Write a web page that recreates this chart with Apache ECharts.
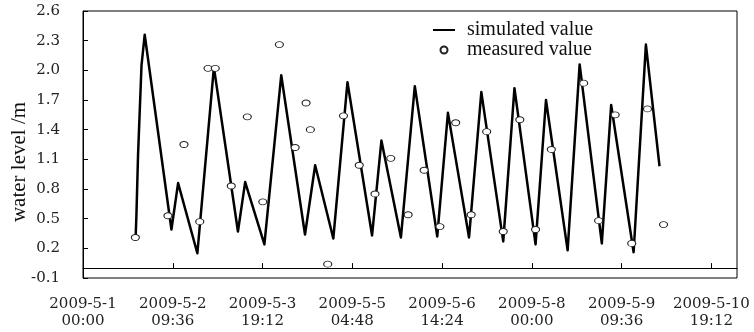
<!DOCTYPE html>
<html>
<head>
<meta charset="utf-8">
<script src="https://cdn.jsdelivr.net/npm/echarts@6/dist/echarts.min.js"></script>
<style>
html,body{margin:0;padding:0;background:#fff;}
#chart{width:754px;height:332px;}
</style>
</head>
<body>
<div id="chart"></div>
<script>
// Time is in hours since 2009-5-1 00:00
const xTickLabels = ['2009-5-1\n00:00','2009-5-2\n09:36','2009-5-3\n19:12','2009-5-5\n04:48','2009-5-6\n14:24','2009-5-8\n00:00','2009-5-9\n09:36','2009-5-10\n19:12'];
const xTickStep = 33.6;   // hours between date ticks
const xMax = 244.8;

const simHours  = [19.7, 20.0, 20.6, 21.9, 23.1, 33.1, 35.6, 42.8, 49.0, 58.0, 60.7, 67.9, 74.2, 83.1, 86.9, 93.7, 99.0, 108.2, 111.7, 119.0, 124.2, 132.6, 136.6, 144.5, 149.1, 157.3, 161.5, 169.4, 173.3, 181.4, 185.9, 194.2, 197.7, 206.1, 210.7, 215.8];
const simValues = [0.31, 0.54, 1.14, 2.05, 2.36, 0.39, 0.86, 0.15, 2.03, 0.37, 0.87, 0.24, 1.95, 0.34, 1.04, 0.30, 1.88, 0.33, 1.29, 0.31, 1.84, 0.32, 1.57, 0.31, 1.78, 0.27, 1.82, 0.24, 1.70, 0.18, 2.06, 0.25, 1.65, 0.16, 2.26, 1.03];

const measHours  = [19.6, 31.8, 37.8, 43.7, 46.8, 49.5, 55.5, 61.5, 67.3, 73.5, 79.4, 83.5, 85.1, 91.6, 97.5, 103.4, 109.3, 115.2, 121.7, 127.7, 133.6, 139.5, 145.3, 151.1, 157.3, 163.5, 169.4, 175.3, 187.4, 193.0, 199.2, 205.4, 211.3, 217.3];
const measValues = [0.31, 0.53, 1.25, 0.47, 2.02, 2.02, 0.83, 1.53, 0.67, 2.26, 1.22, 1.67, 1.40, 0.04, 1.54, 1.04, 0.75, 1.11, 0.54, 0.99, 0.42, 1.47, 0.54, 1.38, 0.37, 1.50, 0.39, 1.20, 1.87, 0.48, 1.55, 0.25, 1.61, 0.44];

const seriesNames = ['simulated value', 'measured value'];
const yAxisName = 'water level /m';

const chart = echarts.init(document.getElementById('chart'), null, {renderer: 'canvas'});
const labelFont = 'DejaVu Serif';
const option = {
  animation: false,
  backgroundColor: '#fff',
  grid: {left: 83, right: 17, top: 11, bottom: 54, show: true, borderColor: '#000', borderWidth: 1},
  legend: {
    left: 427, top: 15, orient: 'vertical', itemGap: 0,
    itemWidth: 22, itemHeight: 7,
    textStyle: {fontFamily: 'Liberation Serif', fontSize: 20, color: '#111', lineHeight: 19, padding: [0,0,0,7]},
    data: [
      {name: seriesNames[0], itemStyle: {opacity: 0}},
      {name: seriesNames[1]}
    ]
  },
  xAxis: {
    type: 'value', min: 0, max: xMax, interval: xTickStep,
    splitLine: {show: false},
    axisLine: {lineStyle: {color: '#000', width: 1}},
    axisTick: {inside: true, length: 5, lineStyle: {color: '#000'}},
    axisLabel: {
      margin: 18, fontFamily: labelFont, fontSize: 15, lineHeight: 17, color: '#222',
      showMaxLabel: false,
      formatter: function (v) {
        const i = Math.round(v / xTickStep);
        if (Math.abs(v - i * xTickStep) < 0.01 && i < xTickLabels.length) return xTickLabels[i];
        return '';
      }
    }
  },
  yAxis: {
    type: 'value', min: -0.1, max: 2.6, interval: 0.3,
    splitLine: {show: false},
    axisLine: {show: true, lineStyle: {color: '#000', width: 1}},
    axisTick: {show: true, inside: true, length: 5, lineStyle: {color: '#000'}},
    axisLabel: {margin: 23, fontFamily: labelFont, fontSize: 15, color: '#222',
      formatter: function (v) { return v.toFixed(1); }}
  },
  graphic: [{
    type: 'text', x: 19, y: 162, rotation: Math.PI / 2,
    style: {text: yAxisName, font: '21px "Liberation Serif"', fill: '#111', textAlign: 'center', textVerticalAlign: 'middle'}
  }],
  series: [
    {
      name: seriesNames[0], type: 'line', showSymbol: false, symbol: 'none',
      lineStyle: {color: '#000', width: 2.5, join: 'round'}, itemStyle: {color: '#000'},
      data: simHours.map((h, i) => [h, simValues[i]]), z: 2
    },
    {
      name: seriesNames[1], type: 'scatter', symbol: 'circle', symbolSize: [8, 6],
      itemStyle: {color: '#fff', borderColor: '#222', borderWidth: 1, opacity: 1},
      data: measHours.map((h, i) => [h, measValues[i]]), z: 3
    }
  ]
};
chart.setOption(option);
</script>
</body>
</html>
